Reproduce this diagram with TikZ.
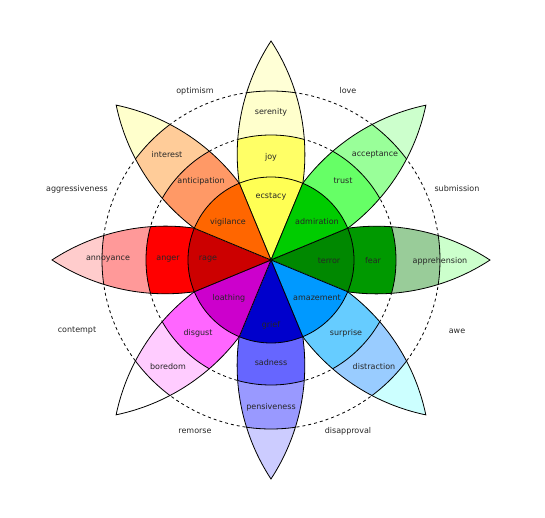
\documentclass[tikz,border=0pt]{standalone}
\usepackage{fontspec}
\setmainfont{DejaVu Sans}
% petal colours, inner to outer
\definecolor{ecstacy}{RGB}{255,255,84}
\definecolor{joy}{RGB}{255,255,102}
\definecolor{serenity}{RGB}{255,255,204}
\definecolor{joytip}{RGB}{255,255,214}
\definecolor{admiration}{RGB}{0,204,0}
\definecolor{trust}{RGB}{102,255,102}
\definecolor{acceptance}{RGB}{153,255,153}
\definecolor{trusttip}{RGB}{204,255,204}
\definecolor{terror}{RGB}{0,136,0}
\definecolor{fear}{RGB}{0,153,0}
\definecolor{apprehension}{RGB}{153,204,153}
\definecolor{feartip}{RGB}{204,255,204}
\definecolor{amazement}{RGB}{0,153,255}
\definecolor{surprise}{RGB}{102,204,255}
\definecolor{distraction}{RGB}{153,204,255}
\definecolor{surprisetip}{RGB}{204,255,255}
\definecolor{grief}{RGB}{0,0,204}
\definecolor{sadness}{RGB}{102,102,255}
\definecolor{pensiveness}{RGB}{153,153,255}
\definecolor{sadnesstip}{RGB}{204,204,255}
\definecolor{loathing}{RGB}{204,0,204}
\definecolor{disgust}{RGB}{255,102,255}
\definecolor{boredom}{RGB}{255,204,255}
\definecolor{disgusttip}{RGB}{255,255,255}
\definecolor{rage}{RGB}{204,0,0}
\definecolor{anger}{RGB}{255,0,0}
\definecolor{annoyance}{RGB}{255,153,153}
\definecolor{angertip}{RGB}{255,204,204}
\definecolor{vigilance}{RGB}{255,102,0}
\definecolor{anticipation}{RGB}{255,153,102}
\definecolor{interest}{RGB}{255,204,153}
\definecolor{anticipationtip}{RGB}{255,255,204}
\begin{document}
\begin{tikzpicture}[x=1pt,y=1pt,
  edge/.style={draw=black,line width=0.8pt},
  ring/.style={line width=0.8pt,dash pattern=on 3pt off 3pt},
  lbl/.style={font=\fontsize{8}{9}\selectfont,text=black!85,inner sep=0pt}]
\useasboundingbox (-271,-258) rectangle (274,260);
% dashed rings behind the petals
\draw[ring] (0,0) circle[radius=125pt];
\draw[ring] (0,0) circle[radius=169pt];
\foreach \ang/\ca/\cb/\cc/\cd in {90/ecstacy/joy/serenity/joytip,
    45/admiration/trust/acceptance/trusttip,
    0/terror/fear/apprehension/feartip,
    -45/amazement/surprise/distraction/surprisetip,
    -90/grief/sadness/pensiveness/sadnesstip,
    -135/loathing/disgust/boredom/disgusttip,
    180/rage/anger/annoyance/angertip,
    135/vigilance/anticipation/interest/anticipationtip}{
  \begin{scope}[rotate=\ang]
    \begin{scope}
      \clip (0,0) -- (22.5:83pt) arc[start angle=98.03,end angle=56.78,radius=207pt]
        arc[start angle=-56.78,end angle=-98.03,radius=207pt] -- cycle;
      \fill[\cd] (0,0) circle[radius=230pt];
      \fill[\cc] (0,0) circle[radius=169pt];
      \fill[\cb] (0,0) circle[radius=125pt];
      \fill[\ca] (0,0) circle[radius=83pt];
      \draw[edge] (0,0) circle[radius=125pt] (0,0) circle[radius=169pt];
    \end{scope}
    \draw[edge] (0,0) -- (22.5:83pt) arc[start angle=98.03,end angle=56.78,radius=207pt]
      arc[start angle=-56.78,end angle=-98.03,radius=207pt] -- cycle;
  \end{scope}
}
\draw[edge] (0,0) circle[radius=83pt];
% petal labels
\node[lbl] (ecstacy) at (0,63) {ecstacy};
\node[lbl] (joy) at (0,103) {joy};
\node[lbl] (serenity) at (0,148) {serenity};
\node[lbl] (admiration) at (46,38) {admiration};
\node[lbl] (trust) at (72,79) {trust};
\node[lbl] (acceptance) at (104,105) {acceptance};
\node[lbl] (terror) at (58,-1) {terror};
\node[lbl] (fear) at (102,-1) {fear};
\node[lbl] (apprehension) at (169,-1) {apprehension};
\node[lbl] (amazement) at (46,-38) {amazement};
\node[lbl] (surprise) at (75,-73) {surprise};
\node[lbl] (distraction) at (103,-107) {distraction};
\node[lbl] (grief) at (0,-65) {grief};
\node[lbl] (sadness) at (0,-103) {sadness};
\node[lbl] (pensiveness) at (0,-147) {pensiveness};
\node[lbl] (loathing) at (-42,-38) {loathing};
\node[lbl] (disgust) at (-73,-73) {disgust};
\node[lbl] (boredom) at (-103,-107) {boredom};
\node[lbl] (rage) at (-63,1) {rage};
\node[lbl] (anger) at (-103,1) {anger};
\node[lbl] (annoyance) at (-163,1) {annoyance};
\node[lbl] (vigilance) at (-43,38) {vigilance};
\node[lbl] (anticipation) at (-70,79) {anticipation};
\node[lbl] (interest) at (-104,105) {interest};
% dyads outside the wheel
\node[lbl] (optimism) at (-76,169) {optimism};
\node[lbl] (love) at (77,169) {love};
\node[lbl] (submission) at (186,71) {submission};
\node[lbl] (awe) at (186,-71) {awe};
\node[lbl] (disapproval) at (77,-171) {disapproval};
\node[lbl] (remorse) at (-76,-171) {remorse};
\node[lbl] (contempt) at (-194,-71) {contempt};
\node[lbl] (aggressiveness) at (-194,71) {aggressiveness};
\end{tikzpicture}
\end{document}
